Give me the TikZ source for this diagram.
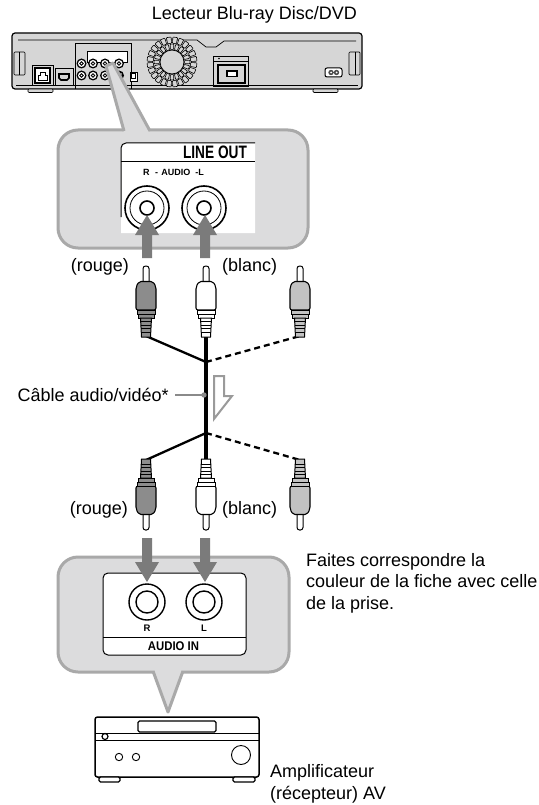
\documentclass[tikz,border=0pt]{standalone}
\usepackage{fontspec}
\setmainfont{Liberation Sans}
\usepackage{graphicx}
\usetikzlibrary{calc}
\definecolor{boxgray}{HTML}{DCDCDD}
\definecolor{boxborder}{HTML}{A9A9A9}
\definecolor{arrowgray}{HTML}{7B7B7B}
\definecolor{playergray}{HTML}{D6D6D6}
\definecolor{plugdark}{HTML}{8C8C8C}
\definecolor{pluglight}{HTML}{C2C2C2}
\definecolor{hollowgray}{HTML}{9A9A9A}
\definecolor{leadergray}{HTML}{8A8A8A}
\tikzset{
  lbl/.style={inner sep=0pt, font=\fontsize{18}{21.5}\selectfont},
  panellbl/.style={inner sep=0pt},
  callout/.style={fill=boxgray, draw=boxborder, line width=3pt},
  calloutedge/.style={draw=boxborder, line width=3pt, line join=round},
  cablemain/.style={line width=3.3pt},
  cablebranch/.style={line width=2.3pt},
  cabledash/.style={line width=2.3pt, dash pattern=on 6pt off 4pt},
  leader/.style={draw=leadergray, line width=1.5pt},
  hollow/.style={draw=hollowgray, line width=2pt, fill=white},
  pl/.style={line width=1.2pt},
  thinpl/.style={line width=0.7pt},
  pics/plug/.style={code={
    \draw[line width=1pt, fill=white, rounded corners=2.6pt] (-3,17) -- (-3,0) -- (3,0) -- (3,17);
    \draw[line width=1.1pt, fill=#1, rounded corners=2pt] (-10,44) -- (-10,21) -- (-7,15.5) -- (7,15.5) -- (10,21) -- (10,44) -- cycle;
    \draw[line width=1pt, fill=#1] (-9,44) rectangle (9,48);
    \draw[line width=1pt, fill=#1] (-8,48) rectangle (8,52);
    \draw[line width=1pt, fill=#1] (-5.5,52) -- (5.5,52) -- (4.5,71) -- (-4.5,71) -- cycle;
    \foreach \yy in {55.5,59,62.5,66} \draw[line width=0.8pt] (-5.3,\yy) -- (5.3,\yy);
  }},
  pics/bigarrow/.style={code={
    \fill[arrowgray] (-5,#1) -- (-5,20) -- (-12,20) -- (0,0) -- (12,20) -- (5,20) -- (5,#1) -- cycle;
  }},
}
\begin{document}
\begin{tikzpicture}[x=1pt,y=-1pt]
\useasboundingbox[fill=white] (0,0) rectangle (538,805);

% ---------------- title
\node[lbl] (title) at (254.5,15) {Lecteur Blu-ray Disc/DVD};

% ---------------- player (rear panel)
\draw[pl, fill=playergray, rounded corners=3pt] (12,33) rectangle (362,89);
\draw[thinpl] (18,40) -- (197,40) -- (206,47) -- (216,47) -- (224,41) -- (356,41);
\draw[thinpl] (16,85) -- (358,85);
\draw[thinpl, rounded corners=1pt] (14,52) rectangle (25,75);
\draw[thinpl] (19,52) -- (19,75);
\draw[thinpl, rounded corners=1pt] (349,52) rectangle (360,75);
\draw[thinpl] (355,52) -- (355,75);
% LAN
\draw[thinpl] (32,65) rectangle (53,85);
\draw[line width=1.2pt, fill=white] (35,68) rectangle (50,83);
\draw[line width=0.9pt] (38,80) -- (38,75) -- (40,75) -- (40,72) -- (45,72) -- (45,75) -- (47,75) -- (47,80) -- cycle;
% HDMI
\draw[thinpl] (55,68) rectangle (73,85);
\draw[line width=1.6pt] (59,74) -- (69,74) -- (69,78) -- (67,80) -- (61,80) -- (59,78) -- cycle;
% jack panel
\draw[thinpl] (75,89) -- (75,43) -- (131,43) -- (131,89);
\draw[thinpl, fill=white] (87,51) rectangle (127,62);
\foreach \jx in {81.5,93,105,119} {
  \fill (\jx,63.5) circle (5);
  \fill[white] (\jx,63.5) circle (3.5);
  \draw[line width=0.8pt] (\jx,63.5) circle (1.8);
}
\foreach \jx in {81.5,93,105} {
  \fill (\jx,75.5) circle (5);
  \fill[white] (\jx,75.5) circle (3.5);
  \draw[line width=0.8pt] (\jx,75.5) circle (1.8);
}
\fill (119,75.5) circle (5);
\fill[white] (117,74) circle (0.9) (121,74) circle (0.9);
\draw[thinpl, fill=white] (130,72) rectangle (137,81);
\draw[line width=1pt] (131.5,74) rectangle (135.5,79);
% fan
\begin{scope}[shift={(172,62)}]
  \draw[line width=0.8pt, fill=playergray] (0,0) circle (12);
  \foreach \a in {0,18,...,342}
    \draw[line width=0.6pt, fill=playergray, rounded corners=0.6pt]
      ({\a-7}:12.5) -- ({\a+7}:12.5) -- ({\a+6}:18) -- ({\a-6}:18) -- cycle;
  \foreach \a in {7.5,22.5,...,352.5}
    \draw[line width=0.6pt, fill=playergray, rounded corners=0.6pt]
      ({\a-6}:18.7) -- ({\a+6}:18.7) -- ({\a+5.5}:25) -- ({\a-5.5}:25) -- cycle;
\end{scope}
% USB panel
\draw[thinpl] (213,56) rectangle (248,86);
\draw[thinpl] (213,61) -- (248,61);
\fill (219,58.5) circle (0.8);
\draw[line width=1.4pt, fill=playergray] (218,65) rectangle (245,83);
\draw[line width=1.4pt, fill=white] (227,71) rectangle (237,76.5);
% power inlet
\draw[line width=1pt, fill=white, rounded corners=2pt] (325,68) rectangle (342,77);
\fill[black!70] (331,72.5) circle (2.7) (336.5,72.5) circle (2.7);
\fill[white] (331,72.5) circle (1) (336.5,72.5) circle (1);
% feet
\draw[thinpl, fill=playergray, rounded corners=1pt] (28,89) rectangle (53,92.5);
\draw[thinpl, fill=playergray, rounded corners=1pt] (313,89) rectangle (338,92.5);

% ---------------- top callout
\draw[callout, rounded corners=20pt] (58,130) rectangle (308,248);
\fill[boxgray] (106,66) -- (113,63) -- (150,133) -- (124,133) -- cycle;
\draw[calloutedge] (124,131) -- (106,66) -- (113,63) -- (150,131);
% panel
\fill[white] (121,233) [rounded corners=5pt] -- (121,143) [sharp corners] -- (255,143) -- (255,233) -- cycle;
\draw[line width=1pt, rounded corners=5pt] (121,217) -- (121,143) -- (255,143);
\draw[line width=1pt] (121,162) -- (255,162);
\node[panellbl] (lineout) at (215,152.5) {\scalebox{0.76}[1]{\fontsize{18}{18}\selectfont\bfseries LINE OUT}};
\node[panellbl] (audiolr) at (173.5,172) {\fontsize{9}{9}\selectfont\bfseries R\hspace{5.5pt}-\hspace{3.3pt}AUDIO\hspace{5pt}-L};
\foreach \jx in {147,204} {
  \draw[line width=1.6pt] (\jx,208) circle (22);
  \draw[line width=0.8pt] (\jx,208) circle (17);
  \draw[line width=1.6pt] (\jx,208) circle (7);
}
\pic at (147,215) {bigarrow=43};
\pic at (205,215) {bigarrow=43};

% ---------------- plugs and cable
\node[lbl, anchor=east] (rouge1) at (129,267) {(rouge)};
\node[lbl, anchor=west] (blanc1) at (222,267) {(blanc)};
\coordinate (p1b) at (146,336);
\coordinate (p2b) at (206,336);
\coordinate (p3b) at (300,336);
\coordinate (q1t) at (146,460);
\coordinate (q2t) at (206,460);
\coordinate (q3t) at (300,460);
\coordinate (ju) at (206,362);
\coordinate (jd) at (206,433);
\draw[cablebranch] (p1b) -- (ju);
\draw[cabledash] (ju) -- (p3b);
\draw[cablebranch] (jd) -- (q1t);
\draw[cabledash] (jd) -- (q3t);
\draw[cablemain] (p2b) -- (q2t);
\pic at (146,266) {plug=plugdark};
\pic at (206,266) {plug=white};
\pic at (300,266) {plug=pluglight};
\pic[yscale=-1] at (146,530) {plug=plugdark};
\pic[yscale=-1] at (206,530) {plug=white};
\pic[yscale=-1] at (300,530) {plug=pluglight};

\node[lbl, anchor=east] (cable) at (169,395) {Câble audio/vidéo*};
\coordinate (ldot) at (204,395);
\draw[leader] ($(cable.east)+(6,0)$) -- (ldot);
\fill[leadergray] (ldot) circle (2.7);
\draw[hollow] (214,376) -- (224,376) -- (224,396) -- (232,396) -- (214,419) -- cycle;

\node[lbl, anchor=east] (rouge2) at (128,510) {(rouge)};
\node[lbl, anchor=west] (blanc2) at (222,510) {(blanc)};

% ---------------- bottom callout
\draw[callout, rounded corners=20pt] (58,557) rectangle (289,672);
\fill[boxgray] (153,669) -- (183,669) -- (168,712) -- cycle;
\draw[calloutedge] (153,671) -- (168,712) -- (183,671);
\draw[line width=1pt, fill=white, rounded corners=5pt] (103,573) rectangle (246,655);
\draw[line width=1pt] (103,637) -- (246,637);
\foreach \jx in {147,204} {
  \draw[line width=1.4pt] (\jx,602) circle (18);
  \draw[line width=1.4pt] (\jx,602) circle (11);
}
\node[panellbl] (rlbl) at (147,628) {\fontsize{9.5}{9.5}\selectfont\bfseries R};
\node[panellbl] (llbl) at (204,628) {\fontsize{9.5}{9.5}\selectfont\bfseries L};
\node[panellbl] (audioin) at (173.5,646) {\scalebox{0.9}[1]{\fontsize{12.6}{12.6}\selectfont\bfseries AUDIO IN}};
\pic[yscale=-1] at (147,582) {bigarrow=44};
\pic[yscale=-1] at (205,582) {bigarrow=44};

\node[lbl, anchor=west, align=left] (match) at (306,583) {Faites correspondre la\\couleur de la fiche avec celle\\de la prise.};

% ---------------- amplifier
\draw[line width=1.5pt, fill=white, rounded corners=2.5pt] (95,717) rectangle (259,777);
\draw[line width=1.2pt, rounded corners=1.5pt] (138,721) rectangle (216,732);
\draw[line width=0.9pt] (95,733.5) -- (259,733.5);
\draw[line width=0.9pt] (95,740) -- (259,740);
\draw[line width=1.2pt, fill=white] (105,736.5) circle (3);
\draw[line width=0.9pt] (119,757) circle (3.7);
\draw[line width=0.9pt] (136,757) circle (3.7);
\draw[line width=0.9pt] (241,755) circle (9.5);
\draw[line width=1.2pt, fill=white, rounded corners=1.5pt] (99,777) rectangle (120,782);
\draw[line width=1.2pt, fill=white, rounded corners=1.5pt] (233,777) rectangle (255,782);
\node[lbl, anchor=west, align=left] (amplbl) at (270,784) {Amplificateur\\(récepteur) AV};
\end{tikzpicture}
\end{document}
